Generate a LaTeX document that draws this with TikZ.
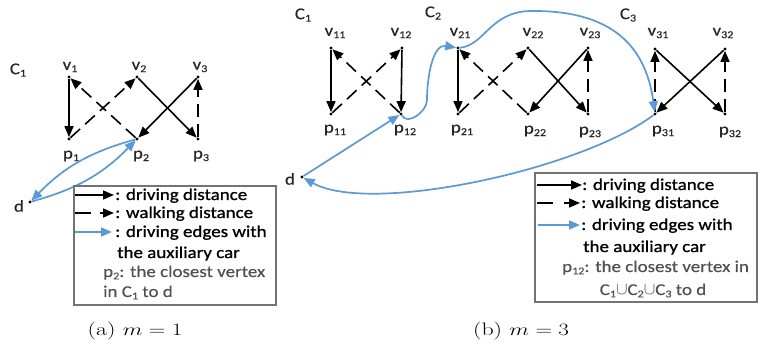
\documentclass[tikz,border=0pt]{standalone}
\usepackage{fontspec}
\newfontfamily\calib{Carlito}[FakeStretch=1.15,FakeBold=0.9]
\newfontfamily\calibl{Carlito}[FakeStretch=1.15,FakeBold=0.3]
\usetikzlibrary{arrows.meta}
\definecolor{edgeblue}{RGB}{91,155,213}
\definecolor{txtgray}{RGB}{80,80,80}
\newcommand\sbs[1]{\raisebox{-0.3ex}{\fontsize{10.5}{11}\selectfont #1}}
\begin{document}
\begin{tikzpicture}[x=1pt,y=1pt,
  dot/.style={circle,fill=black,inner sep=0pt,minimum size=3.4pt},
  lbl/.style={inner sep=0pt,font=\calibl\fontsize{16.5}{19}\selectfont,text=black!85},
  drive/.style={line width=1.6pt,-{Triangle[length=11pt,width=9pt]}},
  walk/.style={line width=1.6pt,dash pattern=on 13pt off 7pt,-{Triangle[length=11pt,width=9pt]}},
  aux/.style={line width=1.7pt,edgeblue,-{Triangle[length=11pt,width=9pt]}},
  legtxt/.style={anchor=base west,inner sep=0pt,font=\calib\fontsize{16.5}{19}\selectfont},
  legtxtg/.style={anchor=base west,inner sep=0pt,font=\calibl\fontsize{16.5}{19}\selectfont,text=txtgray},
  legbox/.style={draw=black!55,line width=1.1pt},
  captxt/.style={inner sep=0pt,font=\fontsize{18}{22}\selectfont}]
\fill[white] (0,0) rectangle (758,-347);
\useasboundingbox (0,0) rectangle (758,-347);

% ---------------- (a) ----------------
\node[dot] (v1) at (69,-77) {};
\node[dot] (v2) at (137,-77) {};
\node[dot] (v3) at (198,-77) {};
\node[dot] (p1) at (69,-139) {};
\node[dot] (p2) at (137,-139) {};
\node[dot] (p3) at (198,-139) {};
\node[dot] (da) at (30,-202) {};
\node[lbl] (lv1) at (70,-67) {v\sbs{1}};
\node[lbl] (lv2) at (139,-67) {v\sbs{2}};
\node[lbl] (lv3) at (200,-67) {v\sbs{3}};
\node[lbl] (lp1) at (71,-156) {p\sbs{1}};
\node[lbl] (lp2) at (141,-156) {p\sbs{2}};
\node[lbl] (lp3) at (201,-156) {p\sbs{3}};
\node[lbl] (lCa) at (18,-70) {C\sbs{1}};
\node[lbl] (lda) at (19,-206) {d};

\draw[drive] (v1) -- (p1);
\draw[walk] (p1) -- (v2);
\draw[walk] (p2) -- (v1);
\draw[drive] (v2) -- (p3);
\draw[drive] (v3) -- (p2);
\draw[walk] (p3) -- (v3);
\draw[aux] (p2) to[bend right=15] (da);
\draw[aux] (da) to[bend right=15] (p2);

% legend (a)
\draw[legbox] (74,-186) rectangle (276,-305);
\coordinate (a1s) at (75,-195); \coordinate (a1e) at (114,-195);
\coordinate (a2s) at (75,-213); \coordinate (a2e) at (114,-213);
\coordinate (a3s) at (75,-232); \coordinate (a3e) at (112,-232);
\draw[drive] (a1s) -- (a1e);
\draw[walk,dash pattern=on 16pt off 9pt] (a2s) -- (a2e);
\draw[aux] (a3s) -- (a3e);
\node[legtxt] (at1) at (115,-200) {: driving distance};
\node[legtxt] (at2) at (115,-218) {: walking distance};
\node[legtxt] (at3) at (115,-237) {: driving edges with};
\node[legtxt] (at4) at (117,-258) {the auxiliary car};
\node[legtxtg] (at5) at (103,-277) {p\sbs{2}: the closest vertex};
\node[legtxtg] (at6) at (103,-297) {in C\sbs{1} to d};

\node[captxt] (capa) at (135,-331) {\scalebox{1.33}[1]{(a) $m=1$}};

% ---------------- (b) ----------------
\node[dot] (v11) at (331,-48) {};
\node[dot] (v12) at (402,-48) {};
\node[dot] (v21) at (458,-48) {};
\node[dot] (v22) at (528,-48) {};
\node[dot] (v23) at (588,-48) {};
\node[dot] (v31) at (655,-49) {};
\node[dot] (v32) at (725,-49) {};
\node[dot] (p11) at (331,-114) {};
\node[dot] (p12) at (401,-114) {};
\node[dot] (p21) at (458,-114) {};
\node[dot] (p22) at (528,-114) {};
\node[dot] (p23) at (588,-114) {};
\node[dot] (p31) at (655,-114) {};
\node[dot] (p32) at (725,-114) {};
\node[dot] (db) at (302,-177) {};

\node[lbl] (lv11) at (335,-33) {v\sbs{11}};
\node[lbl] (lv12) at (401,-33) {v\sbs{12}};
\node[lbl] (lv21) at (460,-33) {v\sbs{21}};
\node[lbl] (lv22) at (533,-33) {v\sbs{22}};
\node[lbl] (lv23) at (590,-33) {v\sbs{23}};
\node[lbl] (lv31) at (658,-33) {v\sbs{31}};
\node[lbl] (lv32) at (723,-33) {v\sbs{32}};
\node[lbl] (lp11) at (335,-130) {p\sbs{11}};
\node[lbl] (lp12) at (405,-130) {p\sbs{12}};
\node[lbl] (lp21) at (462,-130) {p\sbs{21}};
\node[lbl] (lp22) at (535,-131) {p\sbs{22}};
\node[lbl] (lp23) at (590,-132) {p\sbs{23}};
\node[lbl] (lp31) at (663,-131) {p\sbs{31}};
\node[lbl] (lp32) at (730,-132) {p\sbs{32}};
\node[lbl] (lCb1) at (303,-15) {C\sbs{1}};
\node[lbl] (lCb2) at (433,-13) {C\sbs{2}};
\node[lbl] (lCb3) at (628,-15) {C\sbs{3}};
\node[lbl] (ldb) at (290,-179) {d};

\draw[drive] (v11) -- (p11);
\draw[walk] (p12) -- (v11);
\draw[walk] (p11) -- (v12);
\draw[drive] (v12) -- (p12);
\draw[drive] (v21) -- (p21);
\draw[walk] (p22) -- (v21);
\draw[walk] (p21) -- (v22);
\draw[drive] (v22) -- (p23);
\draw[drive] (v23) -- (p22);
\draw[walk] (p23) -- (v23);
\draw[walk] (p31) -- (v31);
\draw[walk] (p32) -- (v32);
\draw[drive] (v31) -- (p32);
\draw[drive] (v32) -- (p31);

\draw[aux] (db) -- (p12);
\draw[aux] (p12) to[out=-60,in=-90] (427,-100) to[out=90,in=170] (v21);
\draw[aux] (v21) .. controls (485,-45) and (490,-12) .. (530,-11) .. controls (605,-10) and (645,-40) .. (p31);
\draw[aux] (p31) .. controls (580,-170) and (370,-215) .. (db);

% legend (b)
\draw[legbox] (535,-173) rectangle (757,-302);
\coordinate (b1s) at (537,-185); \coordinate (b1e) at (582,-185);
\coordinate (b2s) at (537,-203); \coordinate (b2e) at (580,-203);
\coordinate (b3s) at (538,-225); \coordinate (b3e) at (580,-225);
\draw[drive] (b1s) -- (b1e);
\draw[walk,dash pattern=on 16pt off 11pt] (b2s) -- (b2e);
\draw[aux] (b3s) -- (b3e);
\node[legtxt] (bt1) at (582,-190) {: driving distance};
\node[legtxt] (bt2) at (581,-208) {: walking distance};
\node[legtxt] (bt3) at (581,-230) {: driving edges with};
\node[legtxt] (bt4) at (583,-252) {the auxiliary car};
\node[legtxtg] (bt5) at (562,-272) {p\sbs{12}: the closest vertex in};
\node[legtxtg,anchor=base] (bt6) at (653,-295) {C\sbs{1}$\cup$C\sbs{2}$\cup$C\sbs{3} to d};

\node[captxt] (capb) at (521,-331) {\scalebox{1.33}[1]{(b) $m=3$}};
\end{tikzpicture}
\end{document}
